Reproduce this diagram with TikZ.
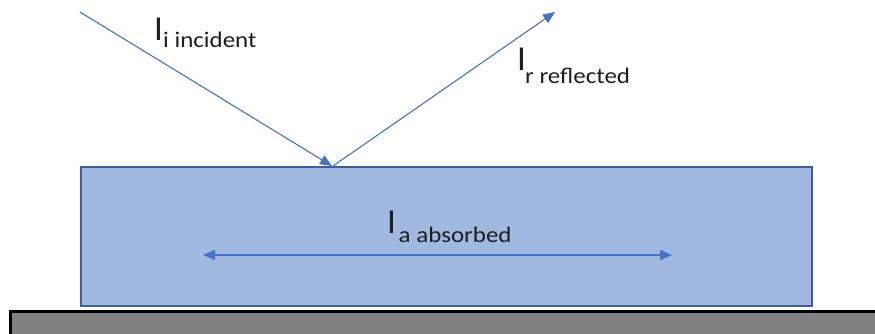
\documentclass[tikz,border=0pt]{standalone}
\usepackage{fontspec}
\setmainfont{Carlito}
\newfontfamily\lblfont[FakeStretch=1.12]{Carlito}
\usetikzlibrary{arrows.meta}
\definecolor{rayblue}{HTML}{4472C4}
\definecolor{slabfill}{HTML}{A1B8E1}
\definecolor{slabedge}{HTML}{3E5F96}
\definecolor{basegray}{HTML}{808080}
\definecolor{txt}{HTML}{1E1E1E}
\tikzset{
  ray/.style={draw=rayblue, line width=1.1pt, -{Triangle[length=12pt,width=10pt]}},
  bigI/.style={anchor=base west, inner sep=0pt, text=txt, font=\fontsize{35}{40}\selectfont},
  subtxt/.style={anchor=base west, inner sep=0pt, text=txt, font=\lblfont\fontsize{22.3}{25}\selectfont},
}
\begin{document}
\begin{tikzpicture}[x=1pt,y=-1pt]
\useasboundingbox (0,0) rectangle (875,333);
\begin{scope}
\clip (0,0) rectangle (875,333);
% rays
\coordinate (src) at (80,12);
\coordinate (hit) at (332,166);
\coordinate (refl) at (333,166);
\coordinate (dst) at (555,12);
\draw[ray] (src) -- (hit);
\draw[ray] (refl) -- (dst);
% slab
\node[draw=slabedge, fill=slabfill, line width=1.6pt, minimum width=731pt, minimum height=139pt, inner sep=0pt, anchor=north west] (slab) at (80,166) {};
% base
\node[draw=black, fill=basegray, line width=2.5pt, minimum width=880pt, minimum height=40pt, inner sep=0pt, anchor=north west] (base) at (9,310) {};
% absorbed arrow
\coordinate (al) at (203,255);
\coordinate (ar) at (672,255);
\draw[draw=rayblue, line width=1.1pt, {Triangle[length=12pt,width=10pt]}-{Triangle[length=12pt,width=10pt]}] (al) -- (ar);
\end{scope}
% labels
\node[bigI] (Ii) at (154,40) {I};
\node[subtxt] (Iisub) at (163,47) {i incident};
\node[bigI] (Ir) at (517,70) {I};
\node[subtxt] (Irsub) at (525,83) {r reflected};
\node[bigI] (Ia) at (387,233) {I};
\node[subtxt] (Iasub) at (398.5,242) {a absorbed};
\end{tikzpicture}
\end{document}
